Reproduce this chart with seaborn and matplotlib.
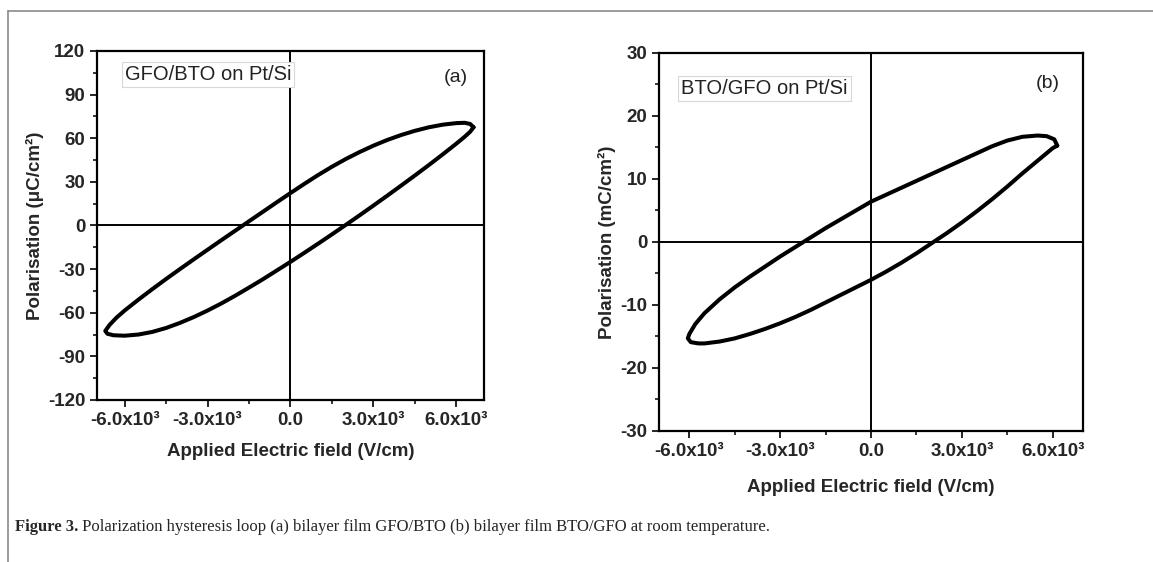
import numpy as np
import pandas as pd
import matplotlib
matplotlib.use('Agg')
import matplotlib.pyplot as plt
from matplotlib.lines import Line2D
from matplotlib.ticker import MultipleLocator, FixedLocator, FixedFormatter
import seaborn as sns

sns.set_style('ticks')
plt.rcParams['font.family'] = ['Liberation Sans', 'DejaVu Sans']
plt.rcParams['axes.unicode_minus'] = False

# panel (a): GFO/BTO, loop traced from +E down and back up
field_a = [6620, 6500, 6300, 6000, 5500, 5000, 4500, 4000, 3500, 3000, 2500, 2000, 1500, 1000, 500, 0,
           -500, -1000, -1500, -2000, -2500, -3000, -3500, -4000, -4500, -5000, -5500, -6000, -6300, -6550, -6700,
           -6620, -6400, -6000, -5500, -5000, -4500, -4000, -3500, -3000, -2500, -2000, -1500, -1000, -500, 0,
           500, 1000, 1500, 2000, 2500, 3000, 3500, 4000, 4500, 5000, 5500, 6000, 6300, 6500, 6620]
pol_a = [67.5, 69.8, 70.6, 70.4, 69.3, 67.5, 65.1, 62.2, 58.8, 54.9, 50.5, 45.7, 40.4, 34.7, 28.6, 22.3,
         15.9, 9.4, 2.9, -3.6, -10.1, -16.7, -23.3, -30.0, -36.8, -43.8, -51.0, -58.5, -63.5, -68.5, -72.5,
         -74.5, -75.5, -75.8, -75.0, -73.2, -70.5, -67.0, -63.0, -58.5, -53.6, -48.3, -42.7, -37.0, -31.0, -25.0,
         -18.8, -12.5, -6.1, 0.4, 7.0, 13.7, 20.5, 27.4, 34.4, 41.5, 48.8, 56.3, 61.0, 64.5, 67.5]

# panel (b): BTO/GFO
field_b = [6150, 6050, 5800, 5500, 5000, 4500, 4000, 3500, 3000, 2500, 2000, 1500, 1000, 500, 0,
           -500, -1000, -1500, -2000, -2500, -3000, -3500, -4000, -4500, -5000, -5500, -5800, -6000, -6050,
           -5950, -5700, -5500, -5000, -4500, -4000, -3500, -3000, -2500, -2000, -1500, -1000, -500, 0,
           500, 1000, 1500, 2000, 2500, 3000, 3500, 4000, 4500, 5000, 5500, 5800, 6000, 6150]
pol_b = [15.3, 16.3, 16.8, 16.9, 16.7, 16.1, 15.2, 14.1, 13.0, 11.9, 10.8, 9.7, 8.6, 7.5, 6.4,
         5.0, 3.6, 2.2, 0.7, -0.8, -2.3, -3.9, -5.5, -7.2, -9.1, -11.3, -13.0, -14.6, -15.3,
         -15.9, -16.1, -16.1, -15.8, -15.3, -14.6, -13.8, -12.9, -11.9, -10.8, -9.6, -8.4, -7.2, -6.0,
         -4.7, -3.3, -1.8, -0.2, 1.4, 3.1, 4.9, 6.8, 8.8, 10.9, 12.9, 14.1, 14.9, 15.3]

x_ticks = [-6000, -3000, 0, 3000, 6000]
x_ticklabels = ['-6.0x10³', '-3.0x10³', '0.0', '3.0x10³', '6.0x10³']
y_ticks_a = [-120, -90, -60, -30, 0, 30, 60, 90, 120]
y_ticks_b = [-30, -20, -10, 0, 10, 20, 30]

xlabel = 'Applied Electric field (V/cm)'
ylabel_a = 'Polarisation (μC/cm²)'
ylabel_b = 'Polarisation (mC/cm²)'
tag_a = 'GFO/BTO on Pt/Si'
tag_b = 'BTO/GFO on Pt/Si'
caption_bold = 'Figure 3.'
caption_rest = ' Polarization hysteresis loop (a) bilayer film GFO/BTO (b) bilayer film BTO/GFO at room temperature.'

df_a = pd.DataFrame({'E': field_a, 'P': pol_a})
df_b = pd.DataFrame({'E': field_b, 'P': pol_b})

fig = plt.figure(figsize=(11.53, 5.62), dpi=100)
ax_a = fig.add_axes([0.0841, 0.2883, 0.3357, 0.621])
ax_b = fig.add_axes([0.5716, 0.2331, 0.3677, 0.6726])


def style_panel(ax, df, yticks, ylim, yminor, ylabel, tag, letter, box_xy, letter_xy, xpad):
    sns.lineplot(data=df, x='E', y='P', sort=False, estimator=None, color='black',
                 lw=2.9, ax=ax)
    ax.axhline(0, color='black', lw=1.4)
    ax.axvline(0, color='black', lw=1.4)
    ax.set_xlim(-7000, 7000)
    ax.set_ylim(*ylim)
    ax.xaxis.set_major_locator(FixedLocator(x_ticks))
    ax.xaxis.set_major_formatter(FixedFormatter(x_ticklabels))
    ax.xaxis.set_minor_locator(MultipleLocator(1500))
    ax.yaxis.set_major_locator(FixedLocator(yticks))
    ax.yaxis.set_minor_locator(MultipleLocator(yminor))
    ax.tick_params(which='major', direction='out', length=5, width=1.4, labelsize=13.5)
    ax.tick_params(which='minor', direction='out', length=3, width=1.3)
    for lab in ax.get_xticklabels() + ax.get_yticklabels():
        lab.set_fontweight('bold')
    for sp in ax.spines.values():
        sp.set_linewidth(1.6)
        sp.set_color('black')
    ax.set_xlabel(xlabel, fontsize=13.5, fontweight='bold', labelpad=xpad)
    ax.set_ylabel(ylabel, fontsize=13.5, fontweight='bold', labelpad=3)
    ax.text(box_xy[0], box_xy[1], tag, transform=ax.transAxes, fontsize=14.5,
            color='#222222', ha='left', va='top',
            bbox=dict(boxstyle='square,pad=0.15', fc='white', ec='#d8d8d8', lw=0.8))
    ax.text(letter_xy[0], letter_xy[1], letter, transform=ax.transAxes, fontsize=14,
            color='#222222', ha='center', va='center')


style_panel(ax_a, df_a, y_ticks_a, (-120, 120), 15, ylabel_a, tag_a, '(a)',
            (0.072, 0.96), (0.928, 0.925), 10)
style_panel(ax_b, df_b, y_ticks_b, (-30, 30), 5, ylabel_b, tag_b, '(b)',
            (0.052, 0.93), (0.917, 0.92), 14)

# outer frame lines of the figure plate
fig.add_artist(Line2D([0.0069, 1.0], [0.980, 0.980], transform=fig.transFigure,
                      color='#8a8a8a', lw=1.2))
fig.add_artist(Line2D([0.0069, 0.0069], [0.0, 0.980], transform=fig.transFigure,
                      color='#8a8a8a', lw=1.2))

t = fig.text(0.013, 0.062, caption_bold, fontsize=12, fontweight='bold',
             family=['Liberation Serif', 'DejaVu Serif'], ha='left', va='center')
fig.canvas.draw()
bb = t.get_window_extent()
x_end = bb.x1 / fig.bbox.width
fig.text(x_end, 0.062, caption_rest, fontsize=12,
         family=['Liberation Serif', 'DejaVu Serif'], ha='left', va='center')

fig.savefig('out.png', dpi=100, facecolor='white')
